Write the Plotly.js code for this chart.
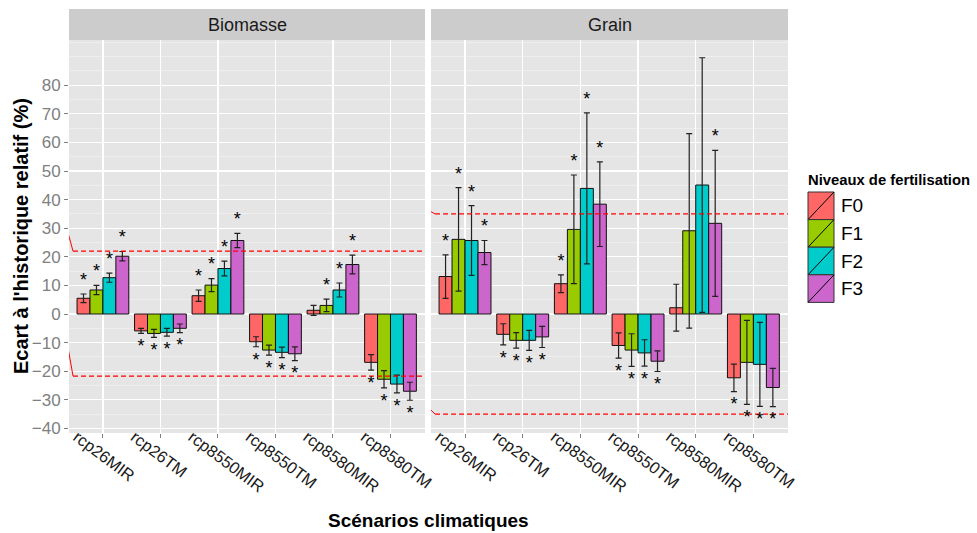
<!DOCTYPE html>
<html>
<head>
<meta charset="utf-8">
<script src="https://cdn.plot.ly/plotly-3.0.1.min.js"></script>
<style>html,body{margin:0;padding:0;background:#fff;}#chart{width:977px;height:533px;}</style>
</head>
<body>
<div id="chart"></div>
<script>
// ---------------- DATA ----------------
const scenarios = ['rcp26MIR','rcp26TM','rcp8550MIR','rcp8550TM','rcp8580MIR','rcp8580TM'];
const levels = ['F0','F1','F2','F3'];
const panels = ['Biomasse','Grain'];

// Biomasse: mean relative deviation (%) per fertilisation level
const bioF0 = [5.5, -5.9, 6.4, -9.7, 1.3, -16.9];
const bioF1 = [8.4, -6.8, 10.1, -12.6, 3.0, -22.8];
const bioF2 = [12.7, -6.4, 15.9, -13.4, 8.4, -24.5];
const bioF3 = [20.2, -5.0, 25.7, -13.9, 17.3, -27.0];
// Biomasse: error (half-width)
const bioErrF0 = [1.5, 0.9, 2.0, 1.75, 1.75, 2.7];
const bioErrF1 = [1.6, 1.4, 2.3, 1.75, 2.2, 3.0];
const bioErrF2 = [1.6, 1.35, 2.6, 1.85, 2.45, 3.1];
const bioErrF3 = [1.65, 1.5, 2.5, 2.4, 3.3, 3.15];
// Biomasse: significance stars
const bioSigF0 = [1, 1, 1, 1, 0, 1];
const bioSigF1 = [1, 1, 1, 1, 1, 1];
const bioSigF2 = [1, 1, 1, 1, 1, 1];
const bioSigF3 = [1, 1, 1, 1, 1, 1];

// Grain
const grainF0 = [13.1, -7.1, 10.6, -11.0, 2.2, -22.3];
const grainF1 = [26.1, -9.2, 29.6, -12.6, 29.1, -16.9];
const grainF2 = [25.7, -9.2, 43.9, -13.6, 45.1, -17.6];
const grainF3 = [21.5, -8.0, 38.4, -16.5, 31.7, -25.7];
const grainErrF0 = [7.6, 3.7, 3.1, 4.4, 8.2, 4.8];
const grainErrF1 = [18.1, 2.7, 19.0, 5.7, 34.0, 14.7];
const grainErrF2 = [12.2, 3.5, 26.4, 4.6, 44.5, 14.7];
const grainErrF3 = [4.2, 3.7, 14.8, 3.6, 25.5, 6.7];
const grainSigF0 = [1, 1, 1, 1, 0, 1];
const grainSigF1 = [1, 1, 1, 1, 0, 1];
const grainSigF2 = [1, 1, 1, 1, 0, 1];
const grainSigF3 = [1, 1, 1, 1, 1, 1];

// Reference (historical variability) lines: [upper, lower] level and start of the lead-in segment
const bioRefLevel = [22.0, -21.7];
const bioRefStart = [29.3, -10.3];
const grainRefLevel = [35.0, -35.0];
const grainRefStart = [36.1, -33.0];

const yTicks = [-40, -30, -20, -10, 0, 10, 20, 30, 40, 50, 60, 70, 80];

// ---------------- STYLE ----------------
const colors = ['#FF6666', '#99CC00', '#00CCCC', '#CC66CC'];
const FONT = 'Liberation Sans, Arial, sans-serif';
const W = 977, H = 533;
const M = {l: 69, r: 189, t: 40, b: 100};
const PW = W - M.l - M.r, PH = H - M.t - M.b;
const px2x = p => (p - M.l) / PW;
const px2y = p => (H - M.b - p) / PH;
const xRange = [-0.59, 5.6];
const bargap = 0.1;
const slot = (1 - bargap) / levels.length;

const bioVals = [bioF0, bioF1, bioF2, bioF3];
const bioErrs = [bioErrF0, bioErrF1, bioErrF2, bioErrF3];
const bioSigs = [bioSigF0, bioSigF1, bioSigF2, bioSigF3];
const grainVals = [grainF0, grainF1, grainF2, grainF3];
const grainErrs = [grainErrF0, grainErrF1, grainErrF2, grainErrF3];
const grainSigs = [grainSigF0, grainSigF1, grainSigF2, grainSigF3];

const xIdx = scenarios.map((_, i) => i);
const traces = [];

function addPanel(vals, errs, sigs, xa, ya, refLevel, refStart) {
  // reference lines
  for (let k = 0; k < refLevel.length; k++) {
    traces.push({type: 'scatter', mode: 'lines', xaxis: xa, yaxis: ya, showlegend: false, hoverinfo: 'skip',
      x: [xRange[0] - 0.03, xRange[0] + 0.07], y: [refStart[k], refLevel[k]],
      line: {color: '#FF0000', width: 1}});
    traces.push({type: 'scatter', mode: 'lines', xaxis: xa, yaxis: ya, showlegend: false, hoverinfo: 'skip',
      x: [xRange[0] + 0.07, xRange[1]], y: [refLevel[k], refLevel[k]],
      line: {color: '#FF0000', width: 1.1, dash: '5px,3px'}});
  }
  levels.forEach((lv, j) => {
    traces.push({
      type: 'bar', name: lv, x: xIdx, y: vals[j], xaxis: xa, yaxis: ya, showlegend: false,
      marker: {color: colors[j], line: {color: '#111', width: 1}},
      error_y: {type: 'data', array: errs[j], visible: true, color: '#222', thickness: 1.2, width: 3}
    });
  });
  levels.forEach((lv, j) => {
    const sx = [], sy = [];
    vals[j].forEach((v, i) => {
      if (!sigs[j][i]) return;
      sx.push(i + (j - (levels.length - 1) / 2) * slot);
      sy.push(v >= 0 ? v + errs[j][i] + 4.4 : v - errs[j][i] - 5.0);
    });
    traces.push({type: 'scatter', mode: 'text', x: sx, y: sy, text: sx.map(() => '*'),
      textposition: 'middle center', xaxis: xa, yaxis: ya, showlegend: false, hoverinfo: 'skip',
      cliponaxis: false, textfont: {family: FONT, size: 18, color: '#000'}});
  });
}
addPanel(bioVals, bioErrs, bioSigs, 'x', 'y', bioRefLevel, bioRefStart);
addPanel(grainVals, grainErrs, grainSigs, 'x2', 'y2', grainRefLevel, grainRefStart);

const xaxisBase = {
  range: xRange, tickmode: 'array', tickvals: xIdx, ticktext: scenarios,
  tickangle: 37, ticks: 'outside', ticklen: 4, tickcolor: '#7F7F7F', tickwidth: 1,
  ticklabelshift: -26, ticklabelstandoff: -17,
  tickfont: {family: FONT, size: 16.5, color: '#1A1A1A'},
  showgrid: true, gridcolor: '#FFFFFF', gridwidth: 1.2, zeroline: false, showline: false, fixedrange: true
};
const yaxisBase = {
  range: [-41.6, 95.8], tickmode: 'array', tickvals: yTicks,
  ticks: 'outside', ticklen: 4, tickcolor: '#7F7F7F', tickwidth: 1,
  tickfont: {family: FONT, size: 17, color: '#7F7F7F'},
  showgrid: true, gridcolor: '#FFFFFF', gridwidth: 1.2, zeroline: false, showline: false,
  minor: {tickmode: 'linear', tick0: 0, dtick: 5, showgrid: true, gridcolor: '#F2F2F2', gridwidth: 0.7, ticks: ''}
};

const shapes = [], annotations = [];
// facet strips
[['x', 'Biomasse'], ['x2', 'Grain']].forEach(([xa, label], k) => {
  shapes.push({type: 'rect', xref: xa + ' domain', yref: 'paper', x0: 0, x1: 1, y0: 1, y1: px2y(9),
    fillcolor: '#CCCCCC', line: {width: 0}, layer: 'below'});
  annotations.push({xref: xa + ' domain', yref: 'paper', x: 0.5, y: px2y(24.5), text: panels[k],
    showarrow: false, xanchor: 'center', yanchor: 'middle', font: {family: FONT, size: 18, color: '#1A1A1A'}});
});
// custom legend
annotations.push({xref: 'paper', yref: 'paper', x: px2x(806), y: px2y(180), text: '<b>Niveaux de fertilisation</b>',
  showarrow: false, xanchor: 'left', yanchor: 'middle', font: {family: FONT, size: 14.8, color: '#000'}});
levels.forEach((lv, j) => {
  const top = 192 + j * 27.6, bot = top + 27.6;
  shapes.push({type: 'rect', xref: 'paper', yref: 'paper', x0: px2x(808), x1: px2x(834), y0: px2y(bot), y1: px2y(top),
    fillcolor: colors[j], line: {color: '#333', width: 1}});
  shapes.push({type: 'line', xref: 'paper', yref: 'paper', x0: px2x(808), x1: px2x(834), y0: px2y(bot), y1: px2y(top),
    line: {color: '#000', width: 1}});
  annotations.push({xref: 'paper', yref: 'paper', x: px2x(839), y: px2y((top + bot) / 2), text: lv,
    showarrow: false, xanchor: 'left', yanchor: 'middle', font: {family: FONT, size: 19, color: '#000'}});
});
// axis titles
annotations.push({xref: 'paper', yref: 'paper', x: px2x(428.5), y: px2y(520), text: '<b>Scénarios climatiques</b>',
  showarrow: false, xanchor: 'center', yanchor: 'middle', font: {family: FONT, size: 19, color: '#000'}});
annotations.push({xref: 'paper', yref: 'paper', x: px2x(21), y: px2y(236), text: "<b>Ecart à l'historique relatif (%)</b>",
  showarrow: false, textangle: -90, xanchor: 'center', yanchor: 'middle', font: {family: FONT, size: 20, color: '#000'}});

const layout = {
  width: W, height: H, margin: M, paper_bgcolor: '#FFFFFF', plot_bgcolor: '#E5E5E5',
  barmode: 'group', bargap: bargap, bargroupgap: 0, showlegend: false,
  font: {family: FONT},
  xaxis: Object.assign({}, xaxisBase, {domain: [0, px2x(425)], anchor: 'y'}),
  xaxis2: Object.assign({}, xaxisBase, {domain: [px2x(431), 1], anchor: 'y2'}),
  yaxis: Object.assign({}, yaxisBase, {anchor: 'x'}),
  yaxis2: Object.assign({}, yaxisBase, {anchor: 'x2', matches: 'y', showticklabels: false, ticks: ''}),
  shapes: shapes, annotations: annotations
};
Plotly.newPlot('chart', traces, layout, {staticPlot: true, displayModeBar: false});
</script>
</body>
</html>
